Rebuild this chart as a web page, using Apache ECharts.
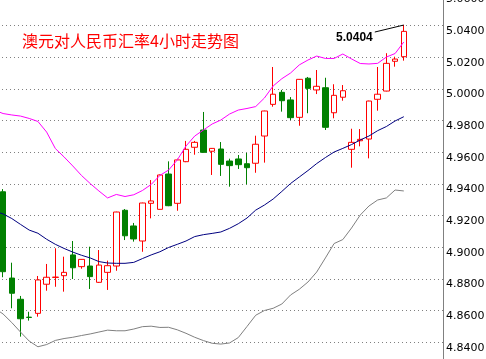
<!DOCTYPE html>
<html><head><meta charset="utf-8">
<script src="https://cdn.jsdelivr.net/npm/echarts@6/dist/echarts.min.js"></script>
<style>html,body{margin:0;padding:0;background:#fff;overflow:hidden}#c{width:486px;height:359px}</style>
</head><body><div id="c"></div>
<script>
// ---- data ----
const titleText = '澳元对人民币汇率4小时走势图';
const lastHighLabel = '5.0404';
const yMin = 4.82, yMax = 5.06, yStep = 0.02;

// candles (47 bars, 4-hour)
const opens  = [4.9351,4.8806,4.8672,4.8559,4.8583,4.8767,4.8810,4.8821,4.8952,4.8878,4.8882,4.8779,4.8842,4.8882,4.9234,4.9135,4.9040,4.9278,4.9240,4.9463,4.9278,4.9541,4.9632,4.9741,4.9607,4.9621,4.9545,4.9558,4.9528,4.9531,4.9703,4.9903,4.9979,4.9931,4.9821,5.0068,4.9994,5.0008,4.9850,4.9948,4.9619,4.9673,4.9684,4.9935,4.9987,5.0175,5.0204];
const closes = [4.8846,4.8710,4.8549,4.8557,4.8794,4.8811,4.8812,4.8842,4.8871,4.8924,4.8815,4.8888,4.8884,4.9223,4.9073,4.9053,4.9280,4.9293,4.9457,4.9263,4.9552,4.9619,4.9663,4.9600,4.9625,4.9524,4.9516,4.9522,4.9503,4.9651,4.9861,4.9967,4.9926,4.9819,5.0061,5.0004,5.0017,4.9758,4.9960,4.9989,4.9663,4.9682,4.9924,4.9967,5.0162,5.0189,5.0364];
const lows   = [4.8811,4.8615,4.8436,4.8537,4.8562,4.8726,4.8751,4.8720,4.8800,4.8865,4.8737,4.8775,4.8731,4.8852,4.9046,4.9036,4.8972,4.9183,4.9238,4.9260,4.9231,4.9538,4.9585,4.9598,4.9457,4.9451,4.9383,4.9495,4.9398,4.9471,4.9535,4.9888,4.9857,4.9804,4.9768,4.9847,4.9968,4.9741,4.9815,4.9926,4.9503,4.9638,4.9562,4.9863,4.9985,5.0141,5.0179];
const highs  = [4.9368,4.8903,4.8693,4.8593,4.8819,4.8895,4.8994,4.8941,4.9040,4.8926,4.9004,4.8983,4.8916,4.9225,4.9242,4.9154,4.9282,4.9425,4.9460,4.9543,4.9560,4.9672,4.9672,4.9855,4.9627,4.9665,4.9560,4.9583,4.9596,4.9705,4.9863,5.0139,4.9994,4.9949,5.0063,5.0076,5.0120,5.0071,5.0030,5.0025,4.9749,4.9747,4.9926,5.0139,5.0226,5.0204,5.0404];

// Bollinger bands (first value = the bar just left of the visible window)
const upperBand  = [4.9867,4.9845,4.9836,4.9829,4.9814,4.9795,4.9728,4.9624,4.9571,4.9514,4.9454,4.9403,4.9356,4.9312,4.9334,4.9321,4.9332,4.9359,4.9397,4.9454,4.9488,4.9552,4.9640,4.9703,4.9741,4.9779,4.9804,4.9842,4.9867,4.9877,4.9889,4.9943,5.0019,5.0065,5.0101,5.0152,5.0183,5.0208,5.0193,5.0193,5.0221,5.0190,5.0161,5.0158,5.0162,5.0202,5.0224,5.0297];
const middleBand = [4.9229,4.9211,4.9182,4.9145,4.9109,4.9089,4.9051,4.9019,4.8993,4.8970,4.8950,4.8933,4.8910,4.8901,4.8899,4.8899,4.8905,4.8929,4.8952,4.8972,4.8999,4.9019,4.9040,4.9068,4.9080,4.9088,4.9097,4.9120,4.9149,4.9185,4.9235,4.9267,4.9305,4.9353,4.9403,4.9444,4.9485,4.9529,4.9567,4.9602,4.9625,4.9649,4.9678,4.9703,4.9737,4.9763,4.9798,4.9825];
const lowerBand  = [4.8617,4.8579,4.8525,4.8465,4.8408,4.8372,4.8386,4.8412,4.8424,4.8432,4.8443,4.8453,4.8465,4.8477,4.8473,4.8473,4.8484,4.8499,4.8502,4.8494,4.8495,4.8479,4.8457,4.8432,4.8411,4.8394,4.8389,4.8396,4.8430,4.8500,4.8571,4.8601,4.8615,4.8642,4.8699,4.8735,4.8781,4.8844,4.8933,4.9024,4.9049,4.9122,4.9204,4.9261,4.9299,4.9312,4.9362,4.9356];
const emptySlotsRight = 4;

// ---- build ----
const nSlots = 1 + opens.length + emptySlotsRight;
const categories = Array.from({length: nSlots}, (_, i) => String(i));
const candleData = ['-'].concat(opens.map((o, i) => [o, closes[i], lows[i], highs[i]]));

const chart = echarts.init(document.getElementById('c'), null, {renderer: 'canvas'});
chart.setOption({
  animation: false,
  backgroundColor: '#ffffff',
  grid: {left: -10, right: 43, top: -6, bottom: -15, containLabel: false, outerBoundsMode: 'none'},
  xAxis: {
    type: 'category', data: categories, boundaryGap: true,
    axisLine: {show: false}, axisTick: {show: false}, axisLabel: {show: false}, splitLine: {show: false}
  },
  yAxis: {
    type: 'value', position: 'right', min: yMin, max: yMax, interval: yStep, scale: true,
    axisLine: {show: true, lineStyle: {color: '#808080', width: 1}},
    axisTick: {show: false},
    axisLabel: {
      show: true, margin: 3, color: '#000000', fontFamily: 'DejaVu Sans', fontSize: 11,
      verticalAlign: 'top', showMinLabel: true, showMaxLabel: true,
      formatter: v => v.toFixed(4)
    },
    splitLine: {show: true, lineStyle: {color: '#808080', width: 1, type: [1, 3]}}
  },
  series: [
    {
      type: 'candlestick', data: candleData, barWidth: 6, z: 2,
      itemStyle: {color: '#ffffff', color0: '#008000', borderColor: '#ff0000', borderColor0: '#008000', borderWidth: 1}
    },
    {type: 'line', data: upperBand, symbol: 'none', z: 3, lineStyle: {color: '#ff00ff', width: 1}},
    {type: 'line', data: middleBand, symbol: 'none', z: 3, lineStyle: {color: '#000080', width: 1}},
    {type: 'line', data: lowerBand, symbol: 'none', z: 3, lineStyle: {color: '#808080', width: 1}}
  ]
});

const lastIdx = opens.length; // slot of last bar
const p = chart.convertToPixel({xAxisIndex: 0, yAxisIndex: 0}, [lastIdx, highs[highs.length - 1]]);
chart.setOption({
  graphic: [
    {type: 'text', left: 22, top: 33, z: 10,
     style: {text: titleText, fill: '#ff0000', font: '16px "Noto Sans CJK SC"'}},
    {type: 'line', z: 10, shape: {x1: p[0] - 29, y1: p[1] + 7, x2: p[0], y2: p[1]},
     style: {stroke: '#000000', lineWidth: 1}},
    {type: 'text', z: 10, x: p[0] - 31, y: p[1] + 7,
     style: {text: lastHighLabel, fill: '#000000', font: 'bold 12px "Liberation Sans"', align: 'right', verticalAlign: 'top'}}
  ]
});
</script>
</body></html>
